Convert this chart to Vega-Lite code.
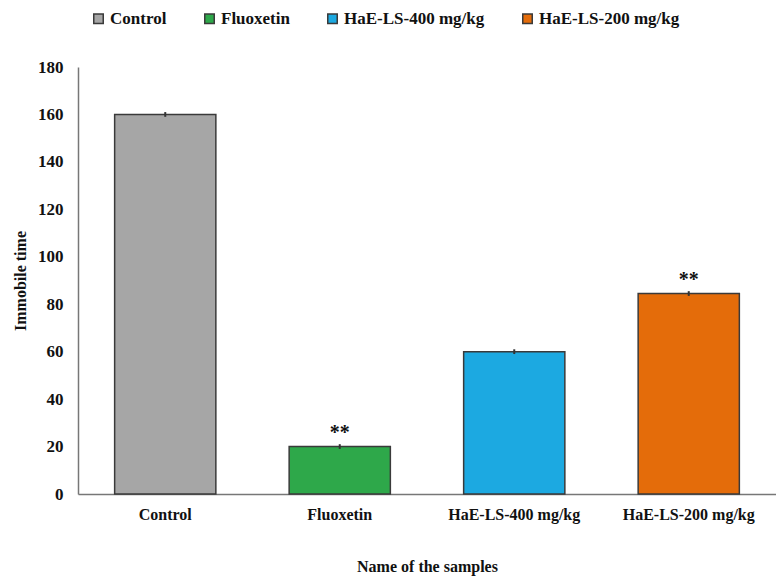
{
  "$schema": "https://vega.github.io/schema/vega-lite/v6.json",
  "autosize": {"type": "none"},
  "padding": {"left": 78, "top": 67, "right": 0, "bottom": 86},
  "width": 698,
  "height": 427,
  "background": "white",
  "config": {
    "font": "Liberation Serif",
    "view": {"stroke": null},
    "axis": {"labelFont": "Liberation Serif", "titleFont": "Liberation Serif", "labelFontWeight": "bold", "titleFontWeight": "bold", "labelColor": "#111", "titleColor": "#111", "domainColor": "#777", "domainWidth": 1.5, "ticks": false, "grid": false}
  },
  "data": {
    "values": [
      {"sample": "Control", "value": 160, "err": 1, "sig": ""},
      {"sample": "Fluoxetin", "value": 20, "err": 1, "sig": "**"},
      {"sample": "HaE-LS-400 mg/kg", "value": 60, "err": 1, "sig": ""},
      {"sample": "HaE-LS-200 mg/kg", "value": 84.5, "err": 1, "sig": "**"}
    ]
  },
  "encoding": {
    "x": {
      "field": "sample", "type": "nominal", "sort": null,
      "scale": {"paddingInner": 0.42, "paddingOuter": 0.21},
      "axis": {"title": "Name of the samples", "labelAngle": 0, "labelFontSize": 16, "labelPadding": 12, "titleFontSize": 16, "titlePadding": 36, "labelLimit": 200}
    }
  },
  "layer": [
    {
      "mark": {"type": "bar", "stroke": "#3a3a3a", "strokeWidth": 1.5},
      "encoding": {
        "y": {"field": "value", "type": "quantitative", "scale": {"domain": [0, 180]},
          "axis": {"title": "Immobile time", "values": [0,20,40,60,80,100,120,140,160,180], "labelFontSize": 17, "labelPadding": 15, "titleFontSize": 16, "titlePadding": 9}},
        "color": {
          "field": "sample", "type": "nominal", "sort": null,
          "scale": {"domain": ["Control", "Fluoxetin", "HaE-LS-400 mg/kg", "HaE-LS-200 mg/kg"], "range": ["#A6A6A6", "#2EA84A", "#1CA9E1", "#E46C0A"]},
          "legend": {
            "title": null, "orient": "none", "direction": "horizontal", "legendX": 12, "legendY": -57,
            "symbolType": "square", "symbolSize": 90, "symbolStrokeColor": "#3a3a3a", "symbolStrokeWidth": 1.5,
            "labelFont": "Liberation Serif", "labelFontWeight": "bold", "labelFontSize": 17, "labelColor": "#111",
            "columnPadding": 34, "labelOffset": 3, "labelLimit": 300
          }
        }
      }
    },
    {
      "transform": [{"calculate": "datum.value - datum.err", "as": "lo"}, {"calculate": "datum.value + datum.err", "as": "hi"}],
      "mark": {"type": "rule", "color": "#333", "strokeWidth": 2},
      "encoding": {"y": {"field": "lo", "type": "quantitative"}, "y2": {"field": "hi"}}
    },
    {
      "transform": [{"calculate": "datum.value + datum.err", "as": "hi"}],
      "mark": {"type": "text", "baseline": "bottom", "dy": -1, "fontSize": 20, "fontWeight": "bold", "font": "Liberation Serif", "color": "#111"},
      "encoding": {"y": {"field": "hi", "type": "quantitative"}, "text": {"field": "sig"}}
    }
  ]
}
